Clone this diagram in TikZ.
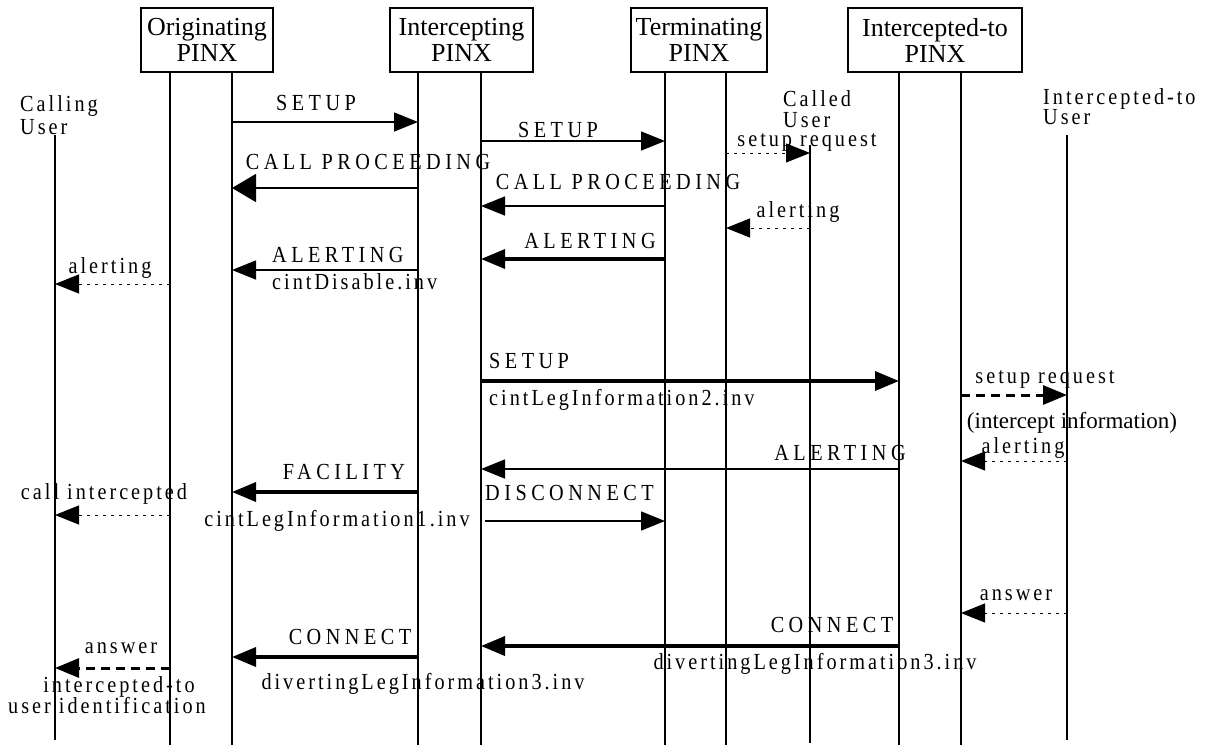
\documentclass[tikz,border=0pt]{standalone}
\usepackage{fontspec}
\setmainfont{Liberation Serif}
\newfontfamily\lsfont[LetterSpace=13,FakeStretch=0.88]{Liberation Serif}
\newfontfamily\lscapfont[LetterSpace=19.5,FakeStretch=0.88]{Liberation Serif}
\usetikzlibrary{arrows.meta}
\tikzset{
  life/.style={line width=1.5pt},
  pinxbox/.style={draw, line width=1.5pt, minimum height=64pt, inner sep=0pt, align=center,
    font=\fontsize{26}{26}\selectfont},
  thinmsg/.style={line width=1.5pt, -{Triangle[length=24pt,width=19pt]}},
  thickmsg/.style={line width=3.5pt, -{Triangle[length=24pt,width=19pt]}},
  dotmsg/.style={line width=1pt, dash pattern=on 3pt off 5pt, -{Triangle[length=24pt,width=19pt]}},
  dashmsg/.style={line width=3pt, dash pattern=on 9pt off 6pt, -{Triangle[length=24pt,width=19pt]}},
  caplbl/.style={inner sep=0pt, anchor=base, font=\lscapfont\fontsize{23}{25}\selectfont},
  lbl/.style={inner sep=0pt, anchor=base, font=\lsfont\fontsize{23}{25}\selectfont},
  userlbl/.style={inner sep=0pt, anchor=north west, align=left},
}
\begin{document}
\begin{tikzpicture}[x=1pt,y=-1pt]
\useasboundingbox (0,0) rectangle (1212,745);
% boxes
\node[pinxbox, minimum width=132pt] (orig) at (207,40) {Originating\\PINX};
\node[pinxbox, minimum width=143pt] (intc) at (461.5,40) {Intercepting\\PINX};
\node[pinxbox, minimum width=136pt] (term) at (699,40) {Terminating\\PINX};
\node[pinxbox, minimum width=174pt] (into) at (935,40) {Intercepted-to\\PINX};
% lifeline coordinates
\coordinate (CUt) at (55,135);  \coordinate (CUb) at (55,740);
\coordinate (O1t) at (170,72);  \coordinate (O1b) at (170,745);
\coordinate (O2t) at (232,72);  \coordinate (O2b) at (232,745);
\coordinate (I1t) at (418,72);  \coordinate (I1b) at (418,745);
\coordinate (I2t) at (481,72);  \coordinate (I2b) at (481,745);
\coordinate (T1t) at (665,72);  \coordinate (T1b) at (665,745);
\coordinate (T2t) at (726,72);  \coordinate (T2b) at (726,745);
\coordinate (CDt) at (810,145); \coordinate (CDb) at (810,743);
\coordinate (X1t) at (899,72);  \coordinate (X1b) at (899,745);
\coordinate (X2t) at (961,72);  \coordinate (X2b) at (961,745);
\coordinate (XUt) at (1067,135); \coordinate (XUb) at (1067,740);
\foreach \l in {CU,O1,O2,I1,I2,T1,T2,CD,X1,X2,XU}
  \draw[life] (\l t) -- (\l b);
% user labels
\node[userlbl, font=\lsfont\fontsize{23}{23}\selectfont] (cu) at (20,95) {Calling\\User};
\node[userlbl, font=\lsfont\fontsize{23}{21}\selectfont] (cd) at (783,90) {Called\\User};
\node[userlbl, font=\lsfont\fontsize{23}{20}\selectfont] (xu) at (1043,88) {Intercepted-to\\User};
% messages
\draw[thinmsg] (O2t |- 0,122) -- (I1t |- 0,122);
\node[caplbl] (m1) at (316,110) {SETUP};
\draw[thinmsg] (I2t |- 0,141) -- (T1t |- 0,141);
\node[caplbl] (m2) at (558,137) {SETUP};
\draw[dotmsg] (T2t |- 0,153) -- (CDt |- 0,153);
\node[lbl] (m3) at (807,146) {setup request};
\draw[line width=1.5pt, -{Triangle[length=24pt,width=28pt]}] (I1t |- 0,188) -- (O2t |- 0,188);
\node[caplbl] (m4) at (368,169) {CALL PROCEEDING};
\draw[thinmsg] (T1t |- 0,206) -- (I2t |- 0,206);
\node[caplbl] (m5) at (618,189) {CALL PROCEEDING};
\draw[dotmsg] (CDt |- 0,228) -- (T2t |- 0,228);
\node[lbl] (m6) at (798,217) {alerting};
\draw[thickmsg] (T1t |- 0,259) -- (I2t |- 0,259);
\node[caplbl] (m7) at (590,248) {ALERTING};
\draw[thinmsg] (I1t |- 0,270) -- (O2t |- 0,270);
\node[caplbl, anchor=base west] (m8) at (272,262) {ALERTING};
\node[lbl, anchor=base west] (m8b) at (272,289) {cintDisable.inv};
\draw[dotmsg] (O1t |- 0,284) -- (CUt |- 0,284);
\node[lbl] (m9) at (110,273) {alerting};
\draw[thickmsg] (I2t |- 0,381) -- (X1t |- 0,381);
\node[caplbl, anchor=base west] (m10) at (489,368) {SETUP};
\node[lbl, anchor=base west] (m10b) at (489,405) {cintLegInformation2.inv};
\draw[dashmsg] (X2t |- 0,395) -- (XUt |- 0,395);
\node[lbl] (m11) at (1045,383) {setup request};
\node[inner sep=0pt, anchor=base, font=\fontsize{23}{25}\selectfont] (m11b) at (1072,428) {(intercept information)};
\draw[thinmsg] (X1t |- 0,469) -- (I2t |- 0,469);
\node[caplbl] (m12) at (840,460) {ALERTING};
\draw[dotmsg] (XUt |- 0,461) -- (X2t |- 0,461);
\node[lbl] (m13) at (1023,453) {alerting};
\draw[thickmsg] (I1t |- 0,492) -- (O2t |- 0,492);
\node[caplbl] (m14) at (344,479) {FACILITY};
\node[lbl] (m14b) at (337,526) {cintLegInformation1.inv};
\draw[dotmsg] (O1t |- 0,515) -- (CUt |- 0,515);
\node[lbl] (m15) at (104,499) {call intercepted};
\coordinate (dstart) at (485,521);
\draw[thinmsg] (dstart) -- (T1t |- dstart);
\node[caplbl, anchor=base west] (m16) at (485,500) {DISCONNECT};
\draw[dotmsg] (XUt |- 0,613) -- (X2t |- 0,613);
\node[lbl] (m17) at (1016,600) {answer};
\draw[thickmsg] (X1t |- 0,646) -- (I2t |- 0,646);
\node[caplbl] (m18) at (832,632) {CONNECT};
\node[lbl] (m18b) at (815,669) {divertingLegInformation3.inv};
\draw[thickmsg] (I1t |- 0,657) -- (O2t |- 0,657);
\node[caplbl] (m19) at (350,644) {CONNECT};
\node[lbl] (m19b) at (423,689) {divertingLegInformation3.inv};
\draw[dashmsg] (O1t |- 0,668) -- (CUt |- 0,668);
\node[lbl] (m20) at (121,653) {answer};
\node[lbl] (m20b) at (119,692) {intercepted-to};
\node[lbl] (m20c) at (107,713) {user identification};
\end{tikzpicture}
\end{document}
